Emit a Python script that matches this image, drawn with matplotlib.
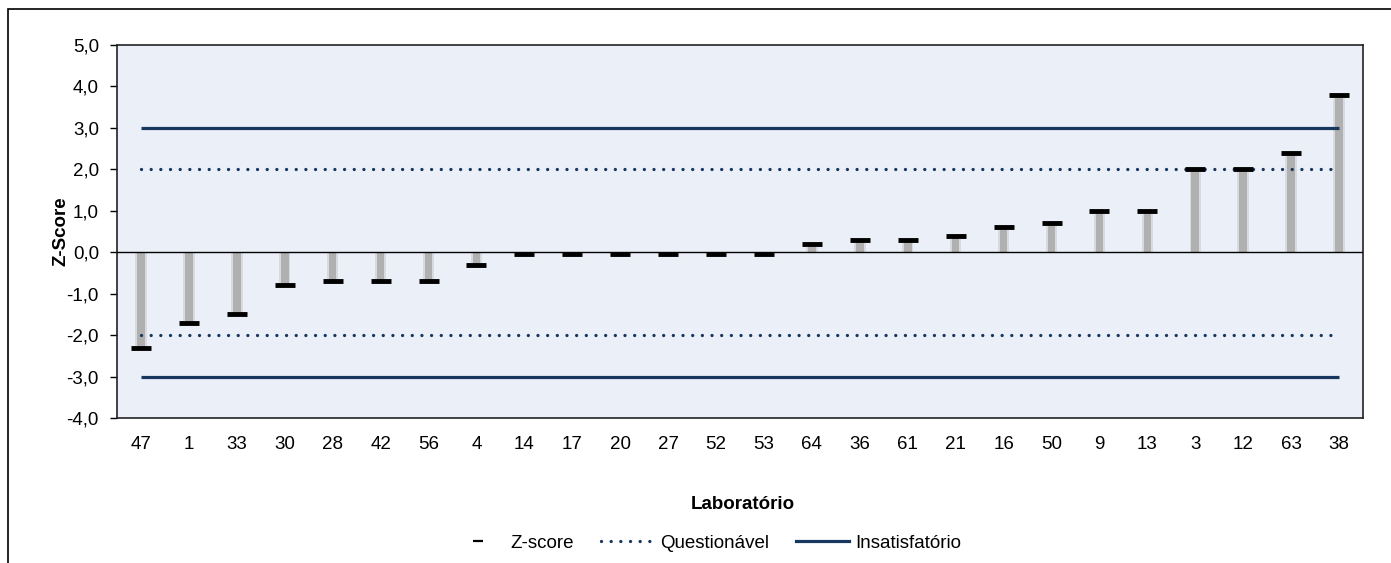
import matplotlib
matplotlib.use("Agg")
import matplotlib.pyplot as plt
from matplotlib.patches import Rectangle
from matplotlib.lines import Line2D
from matplotlib.ticker import FuncFormatter, MultipleLocator

plt.rcParams['font.family'] = ['Liberation Sans', 'DejaVu Sans']
plt.rcParams['font.size'] = 13.5

# Laboratories, ordered by z-score
labs = ['47', '1', '33', '30', '28', '42', '56', '4', '14', '17', '20', '27', '52',
        '53', '64', '36', '61', '21', '16', '50', '9', '13', '3', '12', '63', '38']
zscores = [-2.3, -1.7, -1.5, -0.8, -0.7, -0.7, -0.7, -0.3, -0.04, -0.04, -0.04, -0.04,
           -0.04, -0.04, 0.2, 0.3, 0.3, 0.4, 0.6, 0.7, 1.0, 1.0, 2.0, 2.0, 2.4, 3.8]
questionable = 2.0
unsatisfactory = 3.0

navy = '#17375e'
W, H = 1391, 563
fig = plt.figure(figsize=(W / 100, H / 100), dpi=100)
ax = fig.add_axes([117 / W, 1 - 418 / H, (1363 - 117) / W, (418 - 45) / H])
ax.set_facecolor('#ebf0f8')

x = list(range(len(labs)))

# soft grey stems from zero to each score
ax.bar(x, zscores, width=0.24, color='#b3b3b3', alpha=0.35, zorder=2, linewidth=0)
ax.bar(x, zscores, width=0.16, color='#b0b0b0', zorder=2, linewidth=0)

# limit lines
for lvl in (unsatisfactory, -unsatisfactory):
    ax.plot([x[0], x[-1]], [lvl] * 2, color=navy, lw=2.3, zorder=3,
            solid_capstyle='butt')
for lvl in (questionable, -questionable):
    ax.plot([x[0], x[-1] - 0.1], [lvl] * 2, color=navy, lw=2.4, zorder=3,
            linestyle=(0, (0.001, 2.9)), dash_capstyle='round')

ax.axhline(0, color='black', lw=1.0, zorder=4)

# z-score markers
ax.plot(x, zscores, linestyle='none', marker='_', markersize=13.7,
        markeredgewidth=3.5, color='black', zorder=5)

ax.set_xlim(-0.5, len(labs) - 0.5)
ax.set_ylim(-4, 5)
ax.yaxis.set_major_locator(MultipleLocator(1))
ax.yaxis.set_major_formatter(FuncFormatter(lambda v, p: f"{v:.1f}".replace('.', ',')))
ax.set_xticks(x)
ax.set_xticklabels(labs)
ax.tick_params(axis='x', length=0, pad=13)
ax.tick_params(axis='y', length=5, width=1, pad=8)
for s in ax.spines.values():
    s.set_color('#222222')
    s.set_linewidth(1.2)

ax.set_ylabel('Z-Score', fontweight='bold')
ax.yaxis.set_label_coords((69 - 117) / 1246, 0.5)
ax.set_xlabel('Laboratório', fontweight='bold')
ax.xaxis.set_label_coords((743 - 117) / 1246, (418 - 496) / 373)

handles = [
    Line2D([], [], linestyle='none', marker='_', markersize=7.2, markeredgewidth=1.6,
           color='black'),
    Line2D([], [], color=navy, lw=2.4, linestyle=(0, (0.001, 2.9)),
           dash_capstyle='round'),
    Line2D([], [], color=navy, lw=2.3),
]
fig.legend(handles, ['Z-score', 'Questionável', 'Insatisfatório'], loc='center',
           bbox_to_anchor=(706 / W, 1 - 543 / H), ncol=3, frameon=False,
           handlelength=2.85, handletextpad=0.3, columnspacing=1.45,
           borderpad=0, fontsize=13.5)

# outer chart frame
fig.patches.append(Rectangle((8 / W, -0.1), 1.1, 1 - 9 / H + 0.1,
                             transform=fig.transFigure, fill=False,
                             edgecolor='black', lw=1.2, clip_on=False))

fig.savefig('out.png', dpi=100)
